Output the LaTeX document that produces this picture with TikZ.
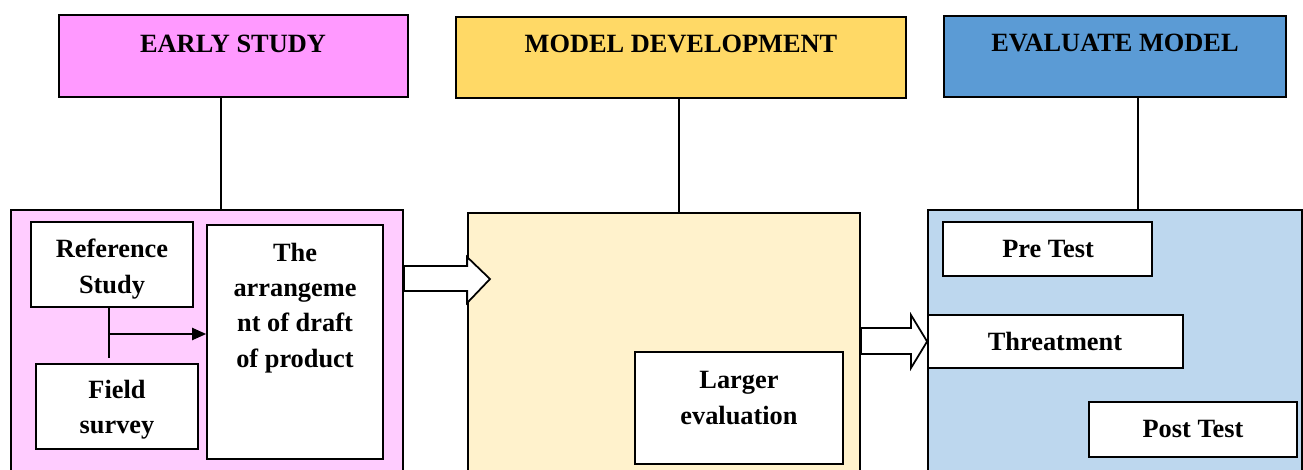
\documentclass[tikz,border=0pt]{standalone}
\usepackage{fontspec}
\setmainfont{Liberation Serif}
\usetikzlibrary{fit,arrows.meta}

\definecolor{earlyhead}{HTML}{FF99FF}
\definecolor{earlybody}{HTML}{FFCCFF}
\definecolor{modelhead}{HTML}{FFD966}
\definecolor{modelbody}{HTML}{FFF2CC}
\definecolor{evalhead}{HTML}{5B9BD5}
\definecolor{evalbody}{HTML}{BDD7EE}

\begin{document}
\begin{tikzpicture}[x=0.02cm,y=-0.02cm,
  box/.style={draw,line width=1pt,inner sep=0pt},
  txt/.style={font=\bfseries\fontsize{15}{20}\selectfont,align=center,inner sep=0pt},
  link/.style={draw,line width=0.8pt},
  blockarrow/.style={draw,line width=1pt,fill=white,line join=miter}]
  \useasboundingbox (0,0) rectangle (1303,470);

  % headers
  \node[box,fill=earlyhead,fit={(59,15) (408,97)}] (early) {};
  \node[box,fill=modelhead,fit={(456,17) (906,98)}] (model) {};
  \node[box,fill=evalhead,fit={(944,16) (1286,97)}] (eval) {};
  \node[txt] (earlytitle) at (233,44) {EARLY STUDY};
  \node[txt] (modeltitle) at (681,44) {MODEL DEVELOPMENT};
  \node[txt] (evaltitle) at (1115,43) {EVALUATE MODEL};

  % stage boxes
  \node[box,fill=earlybody,fit={(11,210) (403,480)}] (earlybox) {};
  \node[box,fill=modelbody,fit={(468,213) (860,480)}] (modelbox) {};
  \node[box,fill=evalbody,fit={(928,210) (1302,480)}] (evalbox) {};

  \coordinate (l1) at (221,0);
  \coordinate (l2) at (679,0);
  \coordinate (l3) at (1138,0);
  \draw[link] (early.south -| l1) -- (earlybox.north -| l1);
  \draw[link] (model.south -| l2) -- (modelbox.north -| l2);
  \draw[link] (eval.south -| l3) -- (evalbox.north -| l3);

  % early study
  \node[box,fill=white,fit={(31,222) (193,307)}] (refstudy) {};
  \node[box,fill=white,fit={(36,364) (198,449)}] (field) {};
  \node[box,fill=white,fit={(207,225) (383,459)}] (arrange) {};
  \node[txt] (reftxt) at (112,269) {Reference\\Study};
  \node[txt] (fieldtxt) at (117,410) {Field\\survey};
  \node[txt] (arrangetxt) at (295,308) {The\\arrangeme\\nt of draft\\of product};

  \coordinate (vx) at (109,0);
  \coordinate (join) at (109,334);
  \draw[link] (refstudy.south -| vx) -- ([yshift=3pt]field.north -| vx);
  \draw[link,-{Triangle[length=8pt,width=7pt]}] (join) -- (arrange.west |- join);

  % model development
  \node[box,fill=white,fit={(635,352) (843,464)}] (larger) {};
  \node[txt] (largertxt) at (739,398) {Larger\\evaluation};

  % evaluate model
  \node[box,fill=white,fit={(943,222) (1152,276)}] (pretest) {};
  \node[box,fill=white,fit={(928,315) (1183,368)}] (threat) {};
  \node[box,fill=white,fit={(1089,402) (1297,457)}] (posttest) {};
  \node[txt] (pretxt) at (1048,249) {Pre Test};
  \node[txt] (threattxt) at (1055,341) {Threatment};
  \node[txt] (posttxt) at (1193,429) {Post Test};

  % block arrows
  \draw[blockarrow] (earlybox.east |- 0,266) -- (modelbox.west |- 0,266)
    -- (modelbox.west |- 0,257) -- (490,279) -- (modelbox.west |- 0,303)
    -- (modelbox.west |- 0,291) -- (earlybox.east |- 0,291) -- cycle;
  \draw[blockarrow] (modelbox.east |- 0,328) -- (911,328) -- (911,315)
    -- (threat.west) -- (911,368) -- (911,354) -- (modelbox.east |- 0,354) -- cycle;
\end{tikzpicture}
\end{document}
